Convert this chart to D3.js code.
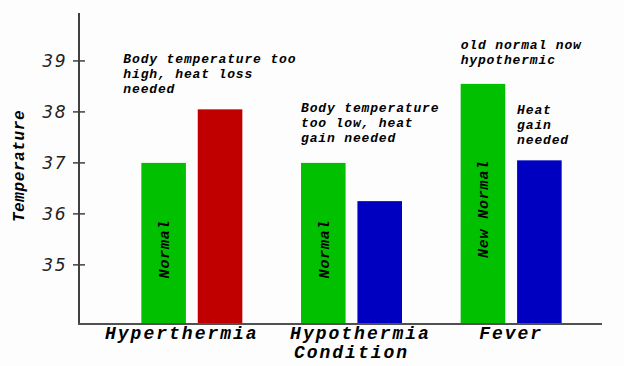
<!DOCTYPE html>
<html>
<head>
<meta charset="utf-8">
<script src="https://cdn.jsdelivr.net/npm/d3@7"></script>
<style>
  body { margin: 0; background: #fff; }
  svg { display: block; background: #fdfdfd; }
  .mono { font-family: "Liberation Mono", "DejaVu Sans Mono", monospace; font-weight: bold; font-style: italic; }
</style>
</head>
<body>
<div id="chart"></div>
<script>
const conditions = ["Hyperthermia", "Hypothermia", "Fever"];
const series = ["normal", "actual"];
const normalValues = [37.0, 37.0, 38.55];
const actualValues = [38.05, 36.25, 37.05];
const actualColors = ["#c00000", "#0000c0", "#0000c0"];
const barLabels = ["Normal", "Normal", "New Normal"];
const yTicks = [35, 36, 37, 38, 39];
const notes = [
  { cond: "Hyperthermia", bar: "normal", lines: ["Body temperature too", "high, heat loss", "needed"], top: 38.95 },
  { cond: "Hypothermia", bar: "normal", lines: ["Body temperature", "too low, heat", "gain needed"], top: 37.99 },
  { cond: "Fever", bar: "normal", lines: ["old normal now", "hypothermic"], top: 39.24 },
  { cond: "Fever", bar: "actual", lines: ["Heat", "gain", "needed"], top: 37.95 }
];

const width = 624, height = 366;
const svg = d3.select("#chart").append("svg").attr("width", width).attr("height", height);

const y = d3.scaleLinear().domain([33.84, 39.94]).range([324, 13]);
const x0 = d3.scaleBand().domain(conditions).range([112, 591]);
const x1 = d3.scaleBand().domain(series).range([0, 101]).paddingInner(0.21);
const barStart = (x0.bandwidth() - 101) / 2;

const data = conditions.map((c, i) => ({
  cond: c,
  values: [
    { key: "normal", v: normalValues[i], color: "#00c000", label: barLabels[i] },
    { key: "actual", v: actualValues[i], color: actualColors[i] }
  ]
}));

const groups = svg.selectAll(".grp").data(data).enter().append("g")
  .attr("transform", d => "translate(" + (x0(d.cond) + barStart) + ",0)");

groups.selectAll("rect").data(d => d.values).enter().append("rect")
  .attr("x", d => x1(d.key))
  .attr("y", d => y(d.v))
  .attr("width", x1.bandwidth())
  .attr("height", d => y.range()[0] - y(d.v))
  .attr("fill", d => d.color);

// rotated labels inside green bars
groups.selectAll(".blabel").data(d => d.values.filter(v => v.label)).enter().append("text")
  .attr("class", "mono")
  .attr("transform", d => {
    const cx = x1(d.key) + x1.bandwidth() / 2;
    const cy = d.label.length > 6 ? 209 : 249;
    return "translate(" + cx + "," + cy + ") rotate(-90)";
  })
  .attr("text-anchor", "middle")
  .attr("dy", "0.35em")
  .style("font-size", "15px")
  .style("letter-spacing", "0.8px")
  .text(d => d.label);

// annotations
notes.forEach(n => {
  const t = svg.append("text").attr("class", "mono")
    .style("font-size", "13px")
    .style("letter-spacing", "0.85px")
    .attr("x", x0(n.cond) + barStart + x1(n.bar) - (n.cond === "Hyperthermia" ? 18 : 0))
    .attr("y", y(n.top));
  n.lines.forEach((l, i) => {
    t.append("tspan").attr("x", t.attr("x")).attr("dy", i === 0 ? 0 : 15).text(l);
  });
});

// axes
svg.append("line").attr("x1", 79).attr("x2", 79).attr("y1", 13).attr("y2", 324)
  .attr("stroke", "#404040").attr("stroke-width", 2);
svg.append("line").attr("x1", 78).attr("x2", 602).attr("y1", 324).attr("y2", 324)
  .attr("stroke", "#505050").attr("stroke-width", 2);

svg.selectAll(".tick").data(yTicks).enter().append("line")
  .attr("x1", 73).attr("x2", 85)
  .attr("y1", d => y(d)).attr("y2", d => y(d))
  .attr("stroke", "#404040").attr("stroke-width", 1.5);

svg.selectAll(".tlabel").data(yTicks).enter().append("text")
  .attr("x", 67).attr("y", d => y(d)).attr("dy", "0.36em")
  .attr("text-anchor", "end")
  .style("font-family", "DejaVu Sans, sans-serif")
  .style("font-style", "italic")
  .style("font-size", "17px")
  .style("letter-spacing", "1.5px")
  .attr("fill", "#222")
  .text(d => d);

// category labels sit slightly off their group centres in the original
const labelShift = { Hyperthermia: -10, Hypothermia: 9, Fever: 0 };
svg.selectAll(".xlabel").data(conditions).enter().append("text")
  .attr("class", "mono")
  .attr("x", d => x0(d) + x0.bandwidth() / 2 + labelShift[d])
  .attr("y", 339)
  .attr("text-anchor", "middle")
  .style("font-size", "18px")
  .style("letter-spacing", "2px")
  .text(d => d);

svg.append("text").attr("class", "mono")
  .attr("x", x0("Hypothermia") + x0.bandwidth() / 2)
  .attr("y", 358)
  .attr("text-anchor", "middle")
  .style("font-size", "18px")
  .style("letter-spacing", "2px")
  .text("Condition");

svg.append("text").attr("class", "mono")
  .attr("transform", "translate(18,166) rotate(-90)")
  .attr("text-anchor", "middle")
  .attr("dy", "0.35em")
  .style("font-size", "16px")
  .style("letter-spacing", "0.6px")
  .text("Temperature");
</script>
</body>
</html>
